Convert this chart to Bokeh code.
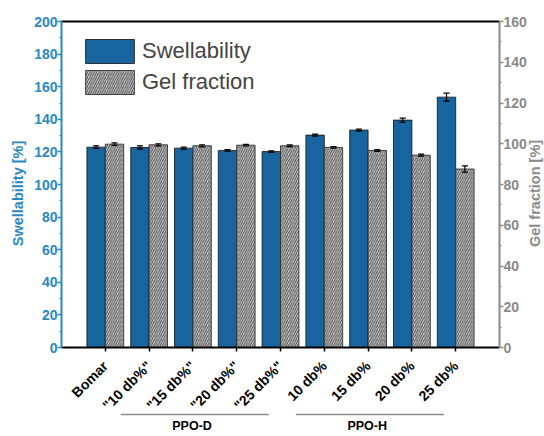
import math
from bokeh.plotting import figure
from bokeh.models import (Range1d, LinearAxis, FixedTicker, SingleIntervalTicker,
                          Legend, LegendItem, ColumnDataSource)
from bokeh.transform import dodge
from bokeh.core.properties import value
from bokeh.embed import file_html
from bokeh.resources import INLINE

# ---------------- data ----------------
categories = ["Bomar", '"10 db%"', '"15 db%"', '"20 db%"', '"25 db%"',
              "10 db%", "15 db%", "20 db%", "25 db%"]
swellability = [122.9, 122.7, 122.3, 120.9, 120.2, 130.3, 133.4, 139.5, 153.6]
swell_err = [0.8, 1.0, 0.6, 0.5, 0.5, 0.6, 0.6, 1.2, 2.4]
gel_fraction = [99.8, 99.5, 99.0, 99.3, 99.0, 98.2, 96.7, 94.4, 87.6]
gel_err = [0.6, 0.5, 0.5, 0.4, 0.4, 0.4, 0.4, 0.5, 1.5]
groups = ["PPO-D", "PPO-H"]
group_start = [2, 6]   # first category position (1-based) of the group
group_end = [5, 9]     # last category position of the group
swell_max = 200
gel_max = 160
tick_interval = 20
# --------------------------------------

FONT = "Liberation Sans"
BAR_BLUE = "#17649f"
AX_BLUE = "#2a88c2"
AX_GRAY = "#8a8a8a"

# ---- page layout (pixels) ----
W, H = 544, 436
AX_LEFT, AX_RIGHT = 61, 499     # pixel x of the left / right value axes
AX_TOP, AX_ZERO = 21, 347       # pixel y of the top line / the zero line

n = len(categories)
x_axis_end = n + 1
px_x = (AX_RIGHT - AX_LEFT) / x_axis_end
px_y = (AX_ZERO - AX_TOP) / swell_max
ratio = gel_max / swell_max
x_lo = -AX_LEFT / px_x
x_hi = (W - AX_LEFT) / px_x
y_lo = -(H - AX_ZERO) / px_y
y_hi = swell_max + AX_TOP / px_y

pos = list(range(1, n + 1))
src = ColumnDataSource(dict(
    x=pos,
    swell=swellability,
    swell_hi=[v + e for v, e in zip(swellability, swell_err)],
    swell_lo=[v - e for v, e in zip(swellability, swell_err)],
    gel=gel_fraction,
    gel_hi=[v + e for v, e in zip(gel_fraction, gel_err)],
    gel_lo=[v - e for v, e in zip(gel_fraction, gel_err)],
))

p = figure(width=W, height=H, x_range=Range1d(x_lo, x_hi), y_range=Range1d(y_lo, y_hi),
           output_backend="svg", toolbar_location=None,
           min_border_left=0, min_border_right=0, min_border_top=0, min_border_bottom=0)
p.extra_y_ranges = {"gel": Range1d(y_lo * ratio, y_hi * ratio)}
p.xgrid.visible = False
p.ygrid.visible = False
p.outline_line_color = None
p.background_fill_color = "white"
p.border_fill_color = "white"

w = 0.42
cap = 0.07

r_sw = p.vbar(x=dodge("x", -w / 2, range=p.x_range), top="swell", bottom=0, width=w,
              fill_color=BAR_BLUE, line_color="#111111", line_width=0.8, source=src)
r_gel = p.vbar(x=dodge("x", w / 2, range=p.x_range), top="gel", bottom=0, width=w,
               y_range_name="gel", fill_color="#d0d0d0", hatch_pattern="/",
               hatch_color="#4a4a4a", hatch_scale=4.5, hatch_weight=1.0,
               line_color="#222222", line_width=0.8, source=src)

# error bars
for off, hi, lo, rn in [(-w / 2, "swell_hi", "swell_lo", "default"),
                        (w / 2, "gel_hi", "gel_lo", "gel")]:
    p.segment(x0=dodge("x", off, range=p.x_range), x1=dodge("x", off, range=p.x_range),
              y0=lo, y1=hi, line_color="black", line_width=1.2, source=src, y_range_name=rn)
    for yy in (hi, lo):
        p.segment(x0=dodge("x", off - cap, range=p.x_range), x1=dodge("x", off + cap, range=p.x_range),
                  y0=yy, y1=yy, line_color="black", line_width=1.2, source=src, y_range_name=rn)

# category axis (the figure's own below axis), drawn at the zero line
xa = p.below[0]
xa.fixed_location = 0
xa.bounds = (0, x_axis_end)
xa.ticker = FixedTicker(ticks=pos)
xa.major_label_overrides = {i: c for i, c in zip(pos, categories)}
xa.major_label_orientation = math.pi / 4
xa.major_label_text_font = FONT
xa.major_label_text_font_style = "bold"
xa.major_label_text_font_size = "14px"
xa.major_label_text_color = "black"
xa.axis_line_color = "black"
xa.axis_line_width = 2
xa.major_tick_line_color = "black"
xa.major_tick_line_width = 1.5
xa.major_tick_out = 4
xa.major_tick_in = 0
xa.minor_tick_line_color = None
xa.major_label_standoff = 12

# left axis at x = 0
ya = p.left[0]
ya.fixed_location = 0
ya.ticker = SingleIntervalTicker(interval=tick_interval, num_minor_ticks=2)
ya.bounds = (0, swell_max)

# right axis at the right end of the category slots
ra = LinearAxis(y_range_name="gel",
                ticker=SingleIntervalTicker(interval=tick_interval, num_minor_ticks=2),
                bounds=(0, gel_max))
ra.fixed_location = x_axis_end
p.add_layout(ra, "right")

for ax, col in [(ya, AX_BLUE), (ra, AX_GRAY)]:
    ax.axis_line_color = col
    ax.axis_line_width = 2
    ax.major_tick_line_color = col
    ax.minor_tick_line_color = col
    ax.major_tick_line_width = 1.5
    ax.minor_tick_line_width = 1.2
    ax.major_tick_out = 4
    ax.major_tick_in = 0
    ax.minor_tick_out = 2
    ax.minor_tick_in = 0
    ax.major_label_text_color = col
    ax.major_label_text_font = FONT
    ax.major_label_text_font_style = "bold"
    ax.major_label_text_font_size = "14px"
    ax.major_label_standoff = 0

# axis titles
title_y = 94.5
p.text(x=[-0.99, x_axis_end + 0.80], y=[title_y, title_y],
       text=["Swellability [%]", "Gel fraction [%]"], angle=math.pi / 2,
       text_align=value("center"), text_baseline=value("middle"), text_font=value(FONT),
       text_font_style=value("bold"), text_font_size=value("14.5px"),
       text_color=[AX_BLUE, AX_GRAY])

# top border line at the top of the value range
top_ax = LinearAxis(ticker=FixedTicker(ticks=[]), major_label_text_font_size="0px",
                    major_tick_out=0, minor_tick_out=0, axis_line_color="black",
                    axis_line_width=2, bounds=(0, x_axis_end))
top_ax.fixed_location = swell_max
p.add_layout(top_ax, "above")

# group brackets under the category labels
gsrc = ColumnDataSource(dict(
    x0=[s - 0.65 for s in group_start],
    x1=[e - 0.27 for e in group_end],
    xc=[(s + e) / 2 - 0.52 for s, e in zip(group_start, group_end)],
    name=groups,
))
p.segment(x0="x0", x1="x1", y0=-41.1, y1=-41.1, line_color="#8c8c8c", line_width=1.5, source=gsrc)
p.text(x="xc", y=-48.2, text="name", source=gsrc, text_align=value("center"),
       text_baseline=value("middle"), text_font=value(FONT), text_font_style=value("bold"),
       text_font_size=value("12.5px"), text_color="black")

legend = Legend(items=[LegendItem(label="Swellability", renderers=[r_sw]),
                       LegendItem(label="Gel fraction", renderers=[r_gel])],
                location=(79, 339), padding=5, spacing=1,
                glyph_width=61, glyph_height=30, label_height=30, label_standoff=2,
                label_text_font=FONT, label_text_font_size="22px",
                border_line_color=None, background_fill_alpha=0)
p.add_layout(legend)

open("out.html", "w").write(file_html(p, INLINE))
